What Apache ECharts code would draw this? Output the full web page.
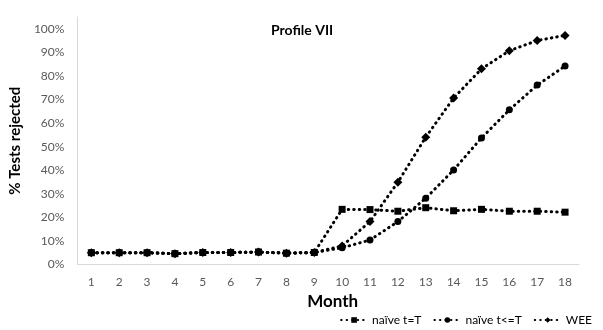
<!DOCTYPE html>
<html>
<head>
<meta charset="utf-8">
<script src="https://cdn.jsdelivr.net/npm/echarts@6/dist/echarts.min.js"></script>
<style>
  html, body { margin: 0; padding: 0; background: #fff; }
  #chart { width: 603px; height: 330px; }
</style>
</head>
<body>
<div id="chart"></div>
<script>
// Months on the x axis
const months = ['1','2','3','4','5','6','7','8','9','10','11','12','13','14','15','16','17','18'];

// Percentage of tests rejected, per method
const naiveEq = [5.0, 5.0, 5.0, 4.6, 5.1, 5.1, 5.3, 4.8, 5.1, 23.4, 23.3, 22.6, 24.1, 22.8, 23.4, 22.6, 22.6, 22.2];
const naiveLe = [5.0, 5.0, 5.0, 4.6, 5.1, 5.1, 5.3, 4.8, 5.1, 7.1, 10.4, 18.2, 28.1, 40.1, 53.7, 65.6, 76.1, 84.2];
const wee     = [5.0, 5.0, 5.0, 4.6, 5.1, 5.1, 5.3, 4.8, 5.1, 7.9, 18.2, 34.9, 54.0, 70.6, 83.0, 90.7, 95.0, 97.2];

const seriesNames = ['naïve t=T', 'naïve t<=T', 'WEE'];

const font = 'Lato, "Open Sans", sans-serif';
const dotted = { color: '#000', width: 3, type: [0.5, 5], cap: 'round' };

function makeSeries(name, data, symbol, size) {
  return {
    name: name,
    type: 'line',
    data: data,
    symbol: symbol,
    symbolSize: size,
    showAllSymbol: true,
    itemStyle: { color: '#000' },
    lineStyle: dotted,
    emphasis: { disabled: true },
    animation: false
  };
}

const chart = echarts.init(document.getElementById('chart'), null, { renderer: 'canvas' });
chart.setOption({
  backgroundColor: '#fff',
  animation: false,
  title: {
    text: 'Profile VII',
    left: 266,
    top: 18,
    textStyle: { fontFamily: font, fontWeight: 'bold', fontSize: 14, color: '#000' }
  },
  legend: {
    data: seriesNames,
    right: 6,
    top: 309,
    itemWidth: 26,
    itemHeight: 7,
    itemGap: 12,
    textStyle: { fontFamily: font, fontSize: 12, color: '#000' }
  },
  grid: { left: 72, right: 24, top: 17, bottom: 65.5, containLabel: false },
  xAxis: {
    type: 'category',
    data: months,
    boundaryGap: true,
    name: 'Month',
    nameLocation: 'middle',
    nameGap: 25,
    nameTextStyle: { fontFamily: font, fontWeight: 'bold', fontSize: 17, color: '#000', padding: [0, 0, 0, 9] },
    axisLine: { lineStyle: { color: '#d9d9d9', width: 1 } },
    axisTick: { show: false },
    axisLabel: { fontFamily: font, fontSize: 12, color: '#595959', margin: 12 },
    splitLine: { show: false }
  },
  yAxis: {
    type: 'value',
    min: 0,
    max: 105,
    interval: 10,
    name: '% Tests rejected',
    nameLocation: 'middle',
    nameGap: 48,
    nameRotate: 90,
    nameTextStyle: { fontFamily: font, fontWeight: 'bold', fontSize: 15, color: '#000' },
    axisLine: { show: true, lineStyle: { color: '#d9d9d9', width: 1 } },
    axisTick: { show: false },
    axisLabel: {
      fontFamily: font, fontSize: 12, color: '#595959', margin: 13,
      formatter: v => (v > 100 ? '' : v + '%')
    },
    splitLine: { show: false }
  },
  series: [
    makeSeries(seriesNames[0], naiveEq, 'rect', 7),
    makeSeries(seriesNames[1], naiveLe, 'circle', 7),
    makeSeries(seriesNames[2], wee, 'diamond', 9)
  ]
});
</script>
</body>
</html>
